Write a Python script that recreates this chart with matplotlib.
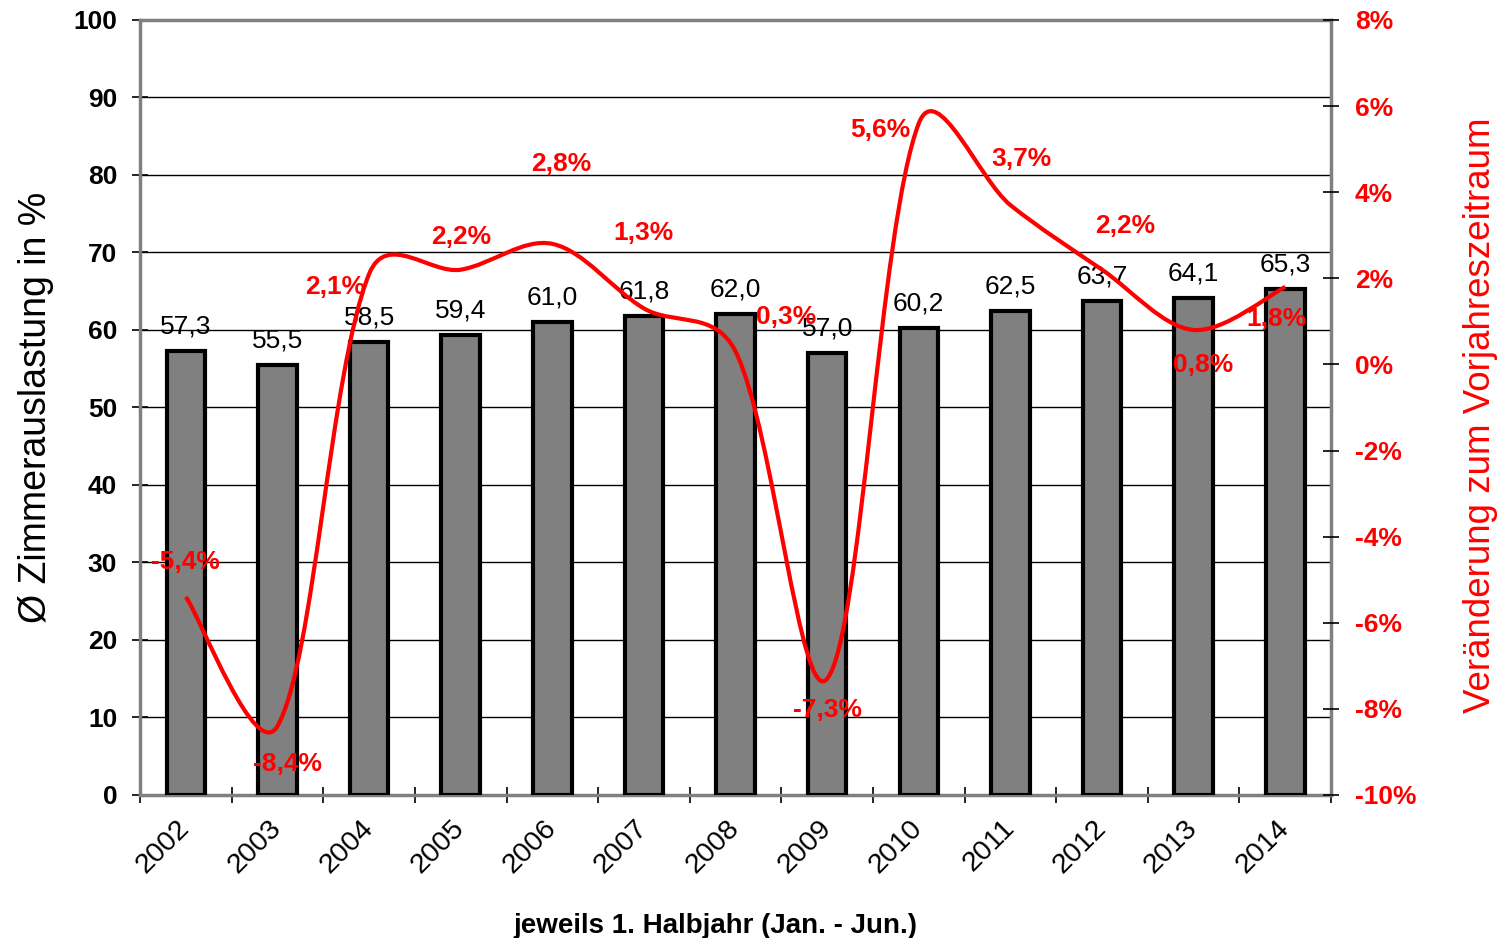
import matplotlib
matplotlib.use("Agg")
import numpy as np
import matplotlib.pyplot as plt
from matplotlib.path import Path
from matplotlib.patches import PathPatch
from matplotlib.ticker import MultipleLocator, FixedLocator

plt.rcParams['font.family'] = ['Liberation Sans', 'DejaVu Sans']

years = ["2002", "2003", "2004", "2005", "2006", "2007", "2008",
         "2009", "2010", "2011", "2012", "2013", "2014"]
occupancy = [57.3, 55.5, 58.5, 59.4, 61.0, 61.8, 62.0,
             57.0, 60.2, 62.5, 63.7, 64.1, 65.3]
change_pct = [-5.4, -8.4, 2.1, 2.2, 2.8, 1.3, 0.3,
              -7.3, 5.6, 3.7, 2.2, 0.8, 1.8]

# label placement for the red percentages (offsets in x units / % units)
lbl_dx = [0.0, 0.11, -0.37, 0.0, 0.1, 0.0, 0.55, 0.0, -0.42, 0.12, 0.25, 0.1, -0.1]
lbl_dy = [0.8, -0.88, -0.30, 0.76, 1.85, 1.75, 0.8, -0.73, -0.16, 1.07, 1.01, -0.81, -0.74]

x = list(range(len(years)))

fig = plt.figure(figsize=(15.01, 9.38), dpi=100)
ax = fig.add_axes([0.0933, 0.1525, 0.7935, 0.8262])

# bars
ax.bar(x, occupancy, width=0.42, color="#808080", edgecolor="black",
       linewidth=3, zorder=3)
for xi, v in zip(x, occupancy):
    ax.annotate(f"{v:.1f}".replace(".", ","), (xi, v), xytext=(0, 9),
                textcoords="offset points", ha="center", va="bottom",
                fontsize=19, zorder=5)

ax.set_xlim(-0.5, len(years) - 0.5)
ax.set_ylim(0, 100)
ax.yaxis.set_major_locator(MultipleLocator(10))
ax.grid(axis="y", color="black", linewidth=1, zorder=0)
ax.set_axisbelow(True)

ax.xaxis.set_major_locator(FixedLocator(x))
ax.set_xticklabels(years, rotation=45, ha="right", va="center",
                   rotation_mode="anchor", fontsize=20.5)
ax.xaxis.set_minor_locator(FixedLocator([i + 0.5 for i in range(-1, len(years))]))
ax.tick_params(axis="x", which="major", length=0, pad=21)
ax.tick_params(axis="x", which="minor", length=12, width=1.2, direction="inout")
ax.tick_params(axis="y", length=12, width=1.2, direction="inout",
               labelsize=19, pad=10.5)
for lab in ax.get_yticklabels():
    lab.set_fontweight("bold")

for s in ax.spines.values():
    s.set_color("#808080")
    s.set_linewidth(2.5)

ax.set_ylabel("Ø Zimmerauslastung in %", fontsize=27, labelpad=14)
ax.set_xlabel("jeweils 1. Halbjahr (Jan. - Jun.)", fontsize=20,
              fontweight="bold")
ax.xaxis.set_label_coords(0.483, -0.152)

# right axis with smoothed line
ax2 = ax.twinx()
ax2.set_ylim(-10, 8)
ax2.yaxis.set_major_locator(MultipleLocator(2))
ax2.yaxis.set_major_formatter(lambda v, p: f"{v:.0f}%")
ax2.tick_params(axis="y", length=12, width=1.2, direction="inout",
                labelsize=19, labelcolor="red", pad=11)
for lab in ax2.get_yticklabels():
    lab.set_fontweight("bold")
for s in ax2.spines.values():
    s.set_visible(False)
ax2.set_ylabel("Veränderung zum Vorjahreszeitraum", fontsize=26.5,
               color="red")
ax2.yaxis.set_label_coords(1.111, 0.49)

# Excel-like smoothing: bezier segments, control arms scaled by
# neighbouring segment lengths (in screen space)
pts = ax2.transData.transform(np.column_stack([x, change_pct]))
n = len(pts)
verts = [pts[0]]
codes = [Path.MOVETO]
for i in range(n - 1):
    p0 = pts[max(i - 1, 0)]
    p1 = pts[i]
    p2 = pts[i + 1]
    p3 = pts[min(i + 2, n - 1)]
    d01 = np.hypot(*(p1 - p0))
    d12 = np.hypot(*(p2 - p1))
    d23 = np.hypot(*(p3 - p2))
    w1 = np.sqrt(2 * d12 / (d01 + d12)) if d01 > 0 else 1.0
    w2 = np.sqrt(2 * d12 / (d12 + d23)) if d23 > 0 else 1.0
    c1 = p1 + (p2 - p0) / 6 * w1
    c2 = p2 - (p3 - p1) / 6 * w2
    verts += [c1, c2, p2]
    codes += [Path.CURVE4] * 3
verts = ax2.transData.inverted().transform(np.array(verts))
ax2.add_patch(PathPatch(Path(verts, codes), facecolor="none",
                        edgecolor="red", linewidth=3, zorder=4))

for xi, v, dx, dy in zip(x, change_pct, lbl_dx, lbl_dy):
    ax2.text(xi + dx, v + dy, f"{v:.1f}%".replace(".", ","), color="red",
             fontsize=19, fontweight="bold", ha="center", va="center", zorder=6)

fig.savefig("out.png", dpi=100)
